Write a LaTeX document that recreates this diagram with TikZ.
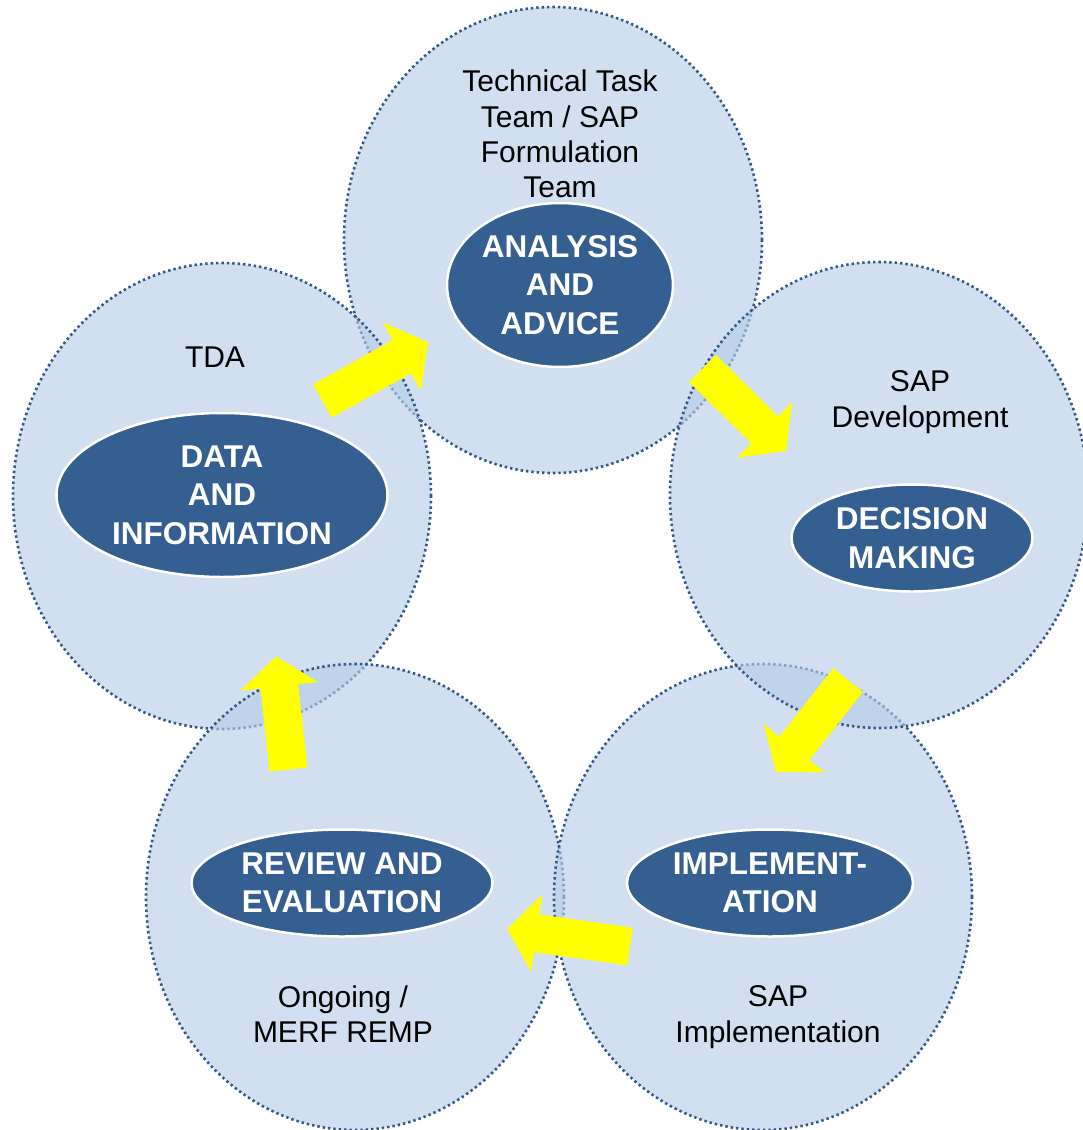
\documentclass[tikz,border=0pt]{standalone}
\usepackage{fontspec}
\setmainfont{Liberation Sans}
\usetikzlibrary{shapes.geometric,calc}
\definecolor{ringfill}{RGB}{180,203,230}
\definecolor{ringline}{RGB}{52,88,134}
\definecolor{corefill}{RGB}{54,95,145}
\definecolor{arrowyellow}{RGB}{255,255,0}
\tikzset{
  ring/.style={ellipse, minimum width=418pt, minimum height=466pt, inner sep=0pt,
    fill=ringfill, fill opacity=0.62, draw=ringline, draw opacity=1,
    line width=2.6pt, dash pattern=on 2.4pt off 3pt},
  core/.style={ellipse, inner sep=0pt, fill=corefill, draw=white, line width=2.5pt,
    text=white, align=center, font=\fontsize{31.5}{38.5}\selectfont\bfseries},
  ringtext/.style={align=center, text=black, font=\fontsize{30}{35.3}\selectfont},
  yarrowfill/.style={fill=arrowyellow, draw=none}
}
\newcommand{\yblockarrow}[2]{%
  \coordinate (#1-h) at ($(#2)!30pt!(#1)$);
  \fill[yarrowfill] ($(#1)!19pt!90:(#2)$) -- ($(#1-h)!19pt!90:(#2)$) -- ($(#1-h)!39pt!90:(#2)$)
    -- (#2) -- ($(#1-h)!39pt!-90:(#2)$) -- ($(#1-h)!19pt!-90:(#2)$) -- ($(#1)!19pt!-90:(#2)$) -- cycle;
}
\begin{document}
\begin{tikzpicture}[x=1pt,y=-1pt]
\useasboundingbox (0,0) rectangle (1082,1130);
% rings (drawing order matters for overlaps)
\node[ring] (rtop) at (553,240) {};
\node[ring] (rleft) at (222,496) {};
\node[ring] (rbl) at (355,897) {};
\node[ring] (rbr) at (763,897) {};
\node[ring] (rright) at (879,495) {};
% cores
\node[core, minimum width=226pt, minimum height=164pt] (analysis) at (560,285) {ANALYSIS\\AND\\ADVICE};
\node[core, minimum width=331pt, minimum height=164pt] (data) at (222,495) {DATA\\AND\\INFORMATION};
\node[core, minimum width=241pt, minimum height=107pt] (decision) at (912,538) {DECISION\\MAKING};
\node[core, minimum width=286pt, minimum height=107pt] (impl) at (770,883) {IMPLEMENT-\\ATION};
\node[core, minimum width=301pt, minimum height=107pt] (review) at (342,883) {REVIEW AND\\EVALUATION};
% ring texts
\node[ringtext] (ttt) at (560,134) {Technical Task\\Team / SAP\\Formulation\\Team};
\node[ringtext] (tda) at (215,357) {TDA};
\node[ringtext] (sapdev) at (920,402) {SAP\\Development};
\node[ringtext] (sapimpl) at (778,1017) {SAP\\Implementation};
\node[ringtext] (ongoing) at (343,1014) {Ongoing /\\MERF REMP};
% arrows
\coordinate (a1) at (322.5,401); \coordinate (b1) at (428,342);
\coordinate (a2) at (702.5,368.5); \coordinate (b2) at (786,451);
\coordinate (a3) at (848,680); \coordinate (b3) at (776,772);
\coordinate (a4) at (630,946.5); \coordinate (b4) at (507,929);
\coordinate (a5) at (288.5,769.5); \coordinate (b5) at (276,656.5);
\yblockarrow{a1}{b1}
\yblockarrow{a2}{b2}
\yblockarrow{a3}{b3}
\yblockarrow{a4}{b4}
\yblockarrow{a5}{b5}
\end{tikzpicture}
\end{document}
